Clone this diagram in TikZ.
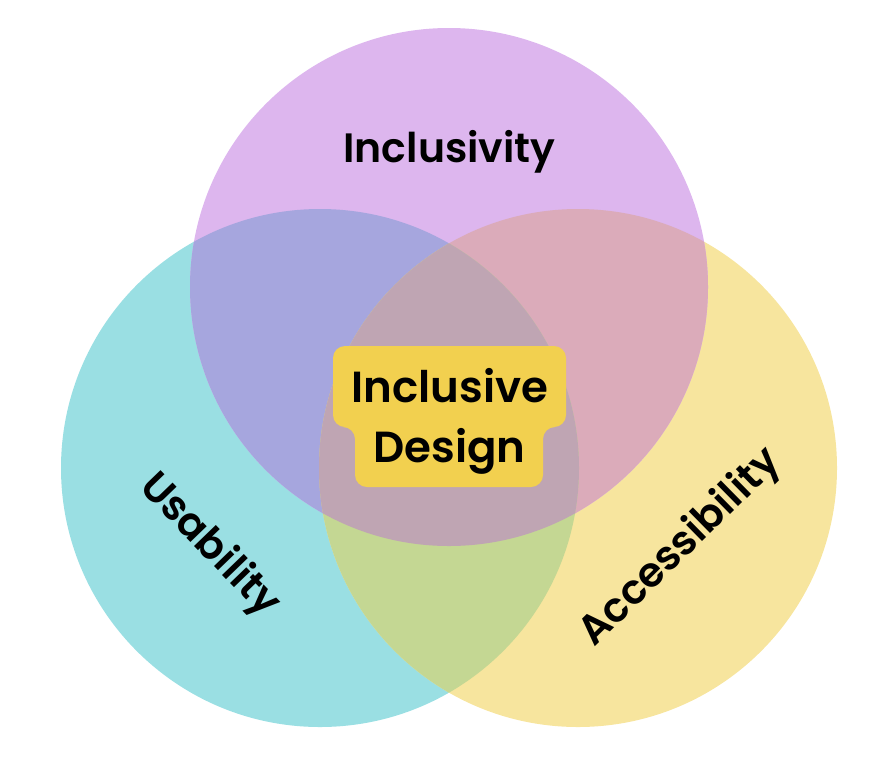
\documentclass[tikz,border=0pt]{standalone}
\usepackage{fontspec}
\newfontfamily\pop{Poppins SemiBold}
\definecolor{cP}{HTML}{DDB6EE}
\definecolor{cC}{HTML}{9ADFE3}
\definecolor{cY}{HTML}{F7E59E}
\definecolor{cPC}{HTML}{A6A6DE}
\definecolor{cPY}{HTML}{DBABBA}
\definecolor{cCY}{HTML}{C4D793}
\definecolor{cAll}{HTML}{BFA5B3}
\definecolor{cBox}{HTML}{F2D04F}
\tikzset{lbl/.style={font=\pop\fontsize{41}{50}\selectfont, text=black, inner sep=0pt},
  ctr/.style={font=\pop\fontsize{43.5}{50}\selectfont, text=black, inner sep=0pt}}
\begin{document}
\begin{tikzpicture}[x=1pt,y=-1pt]
\useasboundingbox (0,0) rectangle (872,780);
\def\R{259}
\coordinate (P) at (449,287);
\coordinate (C) at (320,468);
\coordinate (Y) at (578,468);
\fill[cC] (C) circle (\R);
\fill[cY] (Y) circle (\R);
\fill[cP] (P) circle (\R);
\begin{scope}
\clip (P) circle (\R);
\fill[cPC] (C) circle (\R);
\fill[cPY] (Y) circle (\R);
\end{scope}
\begin{scope}
\clip (C) circle (\R);
\fill[cCY] (Y) circle (\R);
\clip (P) circle (\R);
\fill[cAll] (Y) circle (\R);
\end{scope}
\fill[cBox, rounded corners=12] (333,346) -- (566,346) -- (566,427) -- (543,427) -- (543,487) -- (355,487) -- (355,427) -- (333,427) -- cycle;
\node[ctr, anchor=base] (t1) at (450,402) {Inclusive};
\node[ctr, anchor=base] (t2) at (449.5,462) {Design};
\node[lbl, anchor=base] (inc) at (449.5,162) {Inclusivity};
\node[lbl, rotate=-46] (usa) at (209,546) {Usability};
\node[lbl, rotate=44.5] (acc) at (681,548) {Accessibility};
\end{tikzpicture}
\end{document}
